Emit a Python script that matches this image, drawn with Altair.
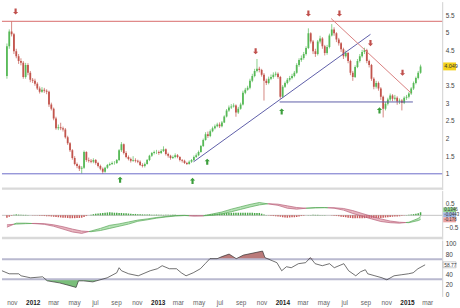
import altair as alt
import pandas as pd

# ---------------- data ----------------
START = pd.Timestamp("2011-10-03")          # first weekly candle
first_open = 3.78
closes = [4.62,5.04,4.96,4.48,4.34,4.20,4.15,3.75,4.09,3.87,
          3.67,3.64,3.56,3.42,3.33,3.39,3.36,3.33,2.97,2.85,
          2.57,2.29,2.32,2.29,2.26,2.04,1.87,1.67,1.45,1.28,
          1.22,1.14,1.17,1.62,1.39,1.37,1.34,1.39,1.31,1.22,
          1.14,1.06,1.17,1.25,1.28,1.31,1.31,1.39,1.67,1.84,
          1.59,1.48,1.42,1.37,1.39,1.37,1.34,1.25,1.22,1.28,
          1.39,1.51,1.59,1.62,1.62,1.59,1.65,1.70,1.56,1.51,
          1.45,1.48,1.53,1.48,1.39,1.37,1.31,1.28,1.34,1.39,
          1.48,1.53,1.62,1.79,1.96,2.12,2.07,2.21,2.29,2.35,
          2.40,2.35,2.46,2.63,2.80,2.88,2.91,2.94,2.74,2.85,
          2.97,3.30,3.39,3.44,3.64,3.78,3.92,3.98,3.95,3.81,
          3.64,3.58,3.70,3.75,3.81,3.84,3.75,3.19,3.47,3.58,
          3.67,3.72,3.78,3.87,4.09,4.23,4.29,4.40,4.57,4.99,
          4.76,4.48,4.40,4.76,4.84,4.62,4.43,4.60,4.93,5.10,
          4.99,4.81,4.71,4.54,4.34,4.43,4.20,3.87,3.75,4.03,
          4.20,4.34,4.46,4.51,4.20,4.09,3.70,3.47,3.58,3.42,
          3.19,2.85,2.99,3.11,3.22,3.13,3.16,3.05,3.08,3.02,
          3.16,3.19,3.28,3.42,3.58,3.72,3.87,4.049]
highs = [4.70,5.10,5.33,5.00,4.55,4.40,4.28,4.20,4.15,4.14,
         3.92,3.72,3.70,3.60,3.48,3.46,3.44,3.40,3.36,3.02,
         2.88,2.62,2.40,2.45,2.34,2.30,2.08,1.90,1.70,1.50,
         1.32,1.26,1.22,1.66,1.64,1.46,1.42,1.44,1.42,1.34,
         1.26,1.18,1.20,1.28,1.32,1.35,1.36,1.42,1.70,1.90,
         1.86,1.64,1.52,1.46,1.50,1.44,1.40,1.38,1.30,1.32,
         1.42,1.54,1.62,1.66,1.68,1.66,1.70,1.78,1.72,1.60,
         1.54,1.52,1.58,1.56,1.50,1.42,1.40,1.34,1.38,1.42,
         1.52,1.58,1.66,1.82,2.00,2.18,2.20,2.26,2.34,2.40,
         2.45,2.46,2.50,2.66,2.84,2.94,2.98,3.00,2.97,2.90,
         3.02,3.36,3.44,3.50,3.70,3.84,3.98,4.26,4.04,3.98,
         3.86,3.70,3.76,3.82,3.88,3.90,3.88,3.78,3.52,3.62,
         3.72,3.78,3.84,3.92,4.14,4.28,4.36,4.46,4.62,5.13,
         5.02,4.80,4.55,4.80,4.92,4.88,4.66,4.66,4.98,5.25,
         5.16,5.02,4.86,4.74,4.58,4.50,4.46,4.24,3.92,4.08,
         4.26,4.40,4.52,4.58,4.55,4.24,4.12,3.74,3.64,3.62,
         3.46,3.22,3.04,3.16,3.28,3.26,3.24,3.20,3.14,3.12,
         3.20,3.24,3.32,3.46,3.62,3.76,3.92,4.10]
lows = [3.70,4.55,4.90,4.40,4.28,4.12,4.08,3.70,3.70,3.80,
        3.60,3.58,3.50,3.38,3.28,3.30,3.30,3.26,2.90,2.80,
        2.52,2.25,2.24,2.24,2.20,2.00,1.82,1.62,1.40,1.24,
        1.16,1.08,1.00,1.14,1.34,1.32,1.30,1.30,1.26,1.18,
        1.10,1.00,1.03,1.14,1.22,1.25,1.26,1.28,1.36,1.62,
        1.55,1.44,1.38,1.32,1.34,1.32,1.30,1.22,1.18,1.18,
        1.26,1.36,1.48,1.55,1.56,1.54,1.56,1.62,1.52,1.46,
        1.40,1.42,1.44,1.44,1.35,1.32,1.28,1.25,1.26,1.31,
        1.36,1.45,1.50,1.60,1.76,1.94,2.02,2.04,2.18,2.26,
        2.32,2.30,2.32,2.44,2.60,2.76,2.84,2.88,2.62,2.70,
        2.82,2.94,3.26,3.36,3.40,3.60,3.74,3.88,3.88,3.76,
        3.08,3.52,3.54,3.66,3.70,3.76,3.70,3.13,3.16,3.44,
        3.54,3.62,3.68,3.74,3.84,4.04,4.18,4.24,4.36,4.54,
        4.70,4.40,4.32,4.36,4.70,4.55,4.36,4.38,4.56,4.90,
        4.92,4.74,4.64,4.46,4.26,4.30,4.14,3.80,3.64,3.72,
        4.00,4.16,4.30,4.40,4.14,4.02,3.64,3.40,3.42,3.36,
        3.10,2.60,2.80,2.94,3.06,3.06,3.08,2.96,2.98,2.80,
        2.98,3.10,3.14,3.24,3.38,3.54,3.68,3.84]

macd_weeks = [0,4,8,12,16,20,24,28,32,36,40,44,48,52,56,60,64,68,72,76,80,84,88,92,
              96,100,104,108,112,116,120,124,128,132,136,140,144,148,152,156,160,164,
              168,172,176,177]
macd_line = [-0.50,-0.33,-0.33,-0.35,-0.38,-0.46,-0.58,-0.70,-0.76,-0.66,
             -0.55,-0.42,-0.36,-0.28,-0.20,-0.15,-0.09,-0.05,-0.01,0.00,
             -0.03,-0.02,0.06,0.14,0.26,0.36,0.46,0.54,0.48,0.42,
             0.30,0.26,0.30,0.33,0.33,0.30,0.22,0.08,-0.04,-0.15,
             -0.26,-0.31,-0.33,-0.29,-0.13,-0.044]
signal_line = [-0.40,-0.37,-0.35,-0.34,-0.35,-0.40,-0.48,-0.58,-0.66,-0.69,
               -0.64,-0.55,-0.46,-0.37,-0.25,-0.19,-0.12,-0.07,-0.03,-0.01,
               -0.02,-0.02,0.00,0.06,0.15,0.25,0.35,0.44,0.49,0.47,
               0.40,0.33,0.30,0.31,0.32,0.32,0.29,0.20,0.08,-0.04,
               -0.15,-0.24,-0.29,-0.31,-0.22,-0.178]
histogram = [-0.10,-0.06,-0.02,0.02, 0.04,0.03,0.03,0.02, 0.02,0.01,0.00,-0.01, -0.01,-0.01,-0.02,-0.02,
             -0.03,-0.04,-0.04,-0.05, -0.06,-0.07,-0.08,-0.09, -0.10,-0.10,-0.11,-0.12, -0.12,-0.12,-0.11,-0.11,
             -0.10,-0.07,-0.03,0.00, 0.03,0.05,0.07,0.08, 0.09,0.10,0.11,0.12, 0.13,0.12,0.11,0.11,
             0.10,0.10,0.09,0.09, 0.08,0.07,0.06,0.06, 0.05,0.05,0.04,0.04, 0.04,0.04,0.03,0.03,
             0.03,0.03,0.02,0.02, 0.02,0.02,0.02,0.02, 0.02,0.01,0.01,0.01, 0.01,0.01,0.00,0.00,
             -0.01,-0.01,0.00,0.00, 0.00,0.02,0.03,0.05, 0.06,0.07,0.07,0.08, 0.08,0.09,0.10,0.10,
             0.11,0.11,0.11,0.11, 0.11,0.11,0.11,0.11, 0.11,0.11,0.10,0.10, 0.10,0.07,0.04,0.01,
             -0.01,-0.02,-0.03,-0.04, -0.05,-0.06,-0.08,-0.09, -0.10,-0.09,-0.08,-0.08, -0.07,-0.05,-0.03,-0.02,
             0.00,0.01,0.01,0.02, 0.02,0.02,0.01,0.01, 0.01,0.00,0.00,-0.01, -0.02,-0.03,-0.04,-0.06,
             -0.07,-0.08,-0.10,-0.11, -0.12,-0.12,-0.12,-0.12, -0.12,-0.12,-0.11,-0.11, -0.11,-0.11,-0.11,-0.11,
             -0.11,-0.10,-0.09,-0.08, -0.07,-0.06,-0.05,-0.05, -0.04,-0.02,-0.01,0.01, 0.02,0.04,0.05,0.07,
             0.09,0.13]

rsi_weeks = [0,3,7,8,12,17,19,24,28,31,32,34,38,41,44,48,49,50,53,57,
             59,62,65,67,70,73,75,77,80,83,85,87,90,92,95,98,101,105,109,110,
             113,115,117,119,121,124,127,129,131,134,137,139,143,145,148,150,152,153,156,159,
             161,164,167,170,172,174,177]
rsi_values = [47,41,41,37,33,35,27,23,18,14,27,27,25,29,33,43,53,47,41,37,
              41,47,51,57,51,51,43,37,43,51,61,71,71,75,80,71,78,82,86,73,
              67,63,47,55,53,61,63,73,61,57,61,53,61,47,37,45,49,41,37,33,
              29,37,39,41,43,51,58.77]

resistance_level = 5.33
floor_level = 1.00
support_level = 3.04
rising_dates, rising_prices = ["2013-04-14", "2014-09-26"], [1.34, 4.96]
support_dates = ["2013-12-28", "2015-01-31"]
falling_dates, falling_prices = ["2014-05-31", "2015-01-25"], [5.41, 3.30]
down_arrow_dates = ["2011-10-29", "2013-10-17", "2014-03-24", "2014-06-25", "2014-09-26", "2014-12-31"]
down_arrow_prices = [5.61, 4.48, 5.55, 5.55, 4.71, 3.87]
up_arrow_dates = ["2012-09-06", "2013-04-11", "2013-05-25", "2014-01-03", "2014-10-23"]
up_arrow_prices = [0.83, 0.80, 1.34, 2.77, 2.80]

price_ticks = [1, 1.5, 2, 2.5, 3, 3.5, 4.5, 5, 5.5]
macd_ticks = [-0.5, 0.5]
rsi_ticks = [0, 20, 40, 80, 100]
last_price = 4.049
macd_labels = [("0.1346", 0.23, "#8fd18f"), ("-0.0443", 0.02, "#9fb3e0"), ("-0.178", -0.19, "#eaa3a3")]
rsi_last = 58.77
month_ticks = [(2011, 11), (2012, 1), (2012, 3), (2012, 5), (2012, 7), (2012, 9), (2012, 11),
               (2013, 1), (2013, 3), (2013, 5), (2013, 7), (2013, 9), (2013, 11),
               (2014, 1), (2014, 3), (2014, 5), (2014, 7), (2014, 9), (2014, 11),
               (2015, 1), (2015, 3)]

# ---------------- helpers ----------------
def iso(ts):
    return pd.Timestamp(ts).strftime("%Y-%m-%dT%H:%M:%SZ")

def week_date(w):
    return iso(START + pd.Timedelta(days=7 * w))

W = 445
H_PRICE, H_MACD, H_RSI = 190, 49, 57
FONT = "Liberation Sans"
GREEN, RED = "#57b957", "#c2544c"

x_scale = alt.Scale(type="utc", domain=[alt.DateTime(year=2011, month=10, date=3, utc=True),
                                         alt.DateTime(year=2015, month=4, date=14, utc=True)])
X = alt.X("date:T", scale=x_scale, axis=None)

def yaxis(values, fmt=".4~r"):
    return alt.Axis(orient="right", values=values, format=fmt, title=None, grid=False, ticks=False,
                    domainColor="#cfcfcf", domainWidth=1, labelPadding=3, labelFontSize=6.5,
                    labelColor="#444", labelFont=FONT)

# ---------------- price panel ----------------
opens = [first_open] + closes[:-1]
cdf = pd.DataFrame({"date": [week_date(i) for i in range(len(closes))],
                    "open": opens, "close": closes, "high": highs, "low": lows})
cdf["high"] = cdf[["high", "open", "close"]].max(axis=1)
cdf["low"] = cdf[["low", "open", "close"]].min(axis=1)
cdf["up"] = cdf["close"] >= cdf["open"]

p_scale = alt.Scale(domain=[0.551, 5.888], nice=False, zero=False)
p_axis = yaxis(price_ticks)
def YP(f):
    return alt.Y(f, scale=p_scale, axis=p_axis)

cb = alt.Chart(cdf)
layers = []
for flag, col in ((True, GREEN), (False, RED)):
    filt = "datum.up" if flag else "!datum.up"
    layers.append(cb.transform_filter(filt).mark_rule(color=col, strokeWidth=0.7, clip=True)
                  .encode(x=X, y=YP("low:Q"), y2="high:Q"))
    layers.append(cb.transform_filter(filt).mark_bar(color=col, size=1.8, clip=True)
                  .encode(x=X, y=YP("open:Q"), y2="close:Q"))

hl = pd.DataFrame({"v": [resistance_level]})
layers.append(alt.Chart(hl).mark_rule(color="#d86b6b", strokeWidth=1).encode(y=YP("v:Q")))
fl = pd.DataFrame({"v": [floor_level]})
layers.append(alt.Chart(fl).mark_rule(color="#6b6bc8", strokeWidth=1).encode(y=YP("v:Q")))

blue_lines = pd.DataFrame({"date": [iso(d) for d in rising_dates] + [iso(d) for d in support_dates],
                           "p": rising_prices + [support_level, support_level],
                           "seg": ["rise", "rise", "sup", "sup"]})
layers.append(alt.Chart(blue_lines).mark_line(color="#5d5da8", strokeWidth=1)
              .encode(x=X, y=YP("p:Q"), detail="seg:N"))
red_line = pd.DataFrame({"date": [iso(d) for d in falling_dates], "p": falling_prices})
layers.append(alt.Chart(red_line).mark_line(color="#d98080", strokeWidth=1)
              .encode(x=X, y=YP("p:Q")))

DOWN = "M-0.35,-1L0.35,-1L0.35,0.15L0.85,0.15L0,1L-0.85,0.15L-0.35,0.15Z"
UP = "M-0.35,1L0.35,1L0.35,-0.15L0.85,-0.15L0,-1L-0.85,-0.15L-0.35,-0.15Z"
dA = pd.DataFrame({"date": [iso(d) for d in down_arrow_dates], "p": down_arrow_prices})
uA = pd.DataFrame({"date": [iso(d) for d in up_arrow_dates], "p": up_arrow_prices})
layers.append(alt.Chart(dA).mark_point(shape=DOWN, filled=True, size=38, color="#c0504d", opacity=1)
              .encode(x=X, y=YP("p:Q")))
layers.append(alt.Chart(uA).mark_point(shape=UP, filled=True, size=38, color="#3c9e3c", opacity=1)
              .encode(x=X, y=YP("p:Q")))

lp = pd.DataFrame({"v": [last_price], "t": [f"{last_price:.3f}"]})
layers.append(alt.Chart(lp).mark_rect(color="#f3d21c", yOffset=-4, y2Offset=4)
              .encode(x=alt.value(446), x2=alt.value(459), y=YP("v:Q"), y2="v:Q"))
layers.append(alt.Chart(lp).mark_text(align="left", baseline="middle", fontSize=5.5, font=FONT, color="#333")
              .encode(x=alt.value(447), y=YP("v:Q"), text="t:N"))
layers.append(alt.Chart(hl).mark_rule(color="#d9d9d9", strokeWidth=2.5)
              .encode(x=alt.value(0), x2=alt.value(W), y=alt.value(H_PRICE - 1)))

price = alt.layer(*layers).properties(width=W, height=H_PRICE)

# ---------------- MACD panel ----------------
m_scale = alt.Scale(domain=[-1.0, 1.042], nice=False, zero=False)
m_axis = yaxis(macd_ticks)
def YM(f, **kw):
    return alt.Y(f, scale=m_scale, axis=m_axis, **kw)

hdf = pd.DataFrame({"date": [week_date(i) for i in range(len(histogram))], "h": histogram})
hdf["pos"] = hdf["h"] >= 0

rows = []
seg = 0
for k in range(len(macd_weeks) - 1):
    w0, w1 = macd_weeks[k], macd_weeks[k + 1]
    m0, m1, s0, s1 = macd_line[k], macd_line[k + 1], signal_line[k], signal_line[k + 1]
    d0, d1 = m0 - s0, m1 - s1
    if d0 * d1 < 0:
        t = d0 / (d0 - d1)
        wc, vc = w0 + t * (w1 - w0), m0 + t * (m1 - m0)
        pieces = [((w0, m0, s0), (wc, vc, vc), d0), ((wc, vc, vc), (w1, m1, s1), d1)]
    else:
        pieces = [((w0, m0, s0), (w1, m1, s1), d0 + d1)]
    for a, b, d in pieces:
        seg += 1
        for p in (a, b):
            rows.append({"date": week_date(p[0]), "m": p[1], "s": p[2], "seg": seg, "pos": d >= 0})
band = pd.DataFrame(rows)

ml = []
ml.append(alt.Chart(hl).mark_rule(color="#9a9a9a", strokeWidth=0.6).encode(y=YM("z:Q")).transform_calculate(z="0"))
for flag, col, bcol, lcol in ((True, "#4aa84a", "#78c878", "#55a855"), (False, "#c85858", "#d4788a", "#b8607a")):
    filt = "datum.pos" if flag else "!datum.pos"
    ml.append(alt.Chart(hdf).transform_filter(filt).mark_bar(color=col, size=1.5)
              .encode(x=X, y=YM("h:Q"), y2=alt.datum(0)))
    ml.append(alt.Chart(band).transform_filter(filt).mark_area(color=bcol, opacity=0.55)
              .encode(x=X, y=YM("m:Q", stack=None), y2="s:Q", detail="seg:N"))
    ml.append(alt.Chart(band).transform_filter(filt).mark_line(color=lcol, strokeWidth=0.7)
              .encode(x=X, y=YM("m:Q"), detail="seg:N"))
    ml.append(alt.Chart(band).transform_filter(filt).mark_line(color=lcol, strokeWidth=0.7)
              .encode(x=X, y=YM("s:Q"), detail="seg:N"))
mlab = pd.DataFrame({"t": [a for a, b, c in macd_labels], "v": [b for a, b, c in macd_labels],
                     "c": [c for a, b, c in macd_labels]})
ml.append(alt.Chart(mlab).mark_rect(yOffset=-2.5, y2Offset=2.5)
          .encode(x=alt.value(446), x2=alt.value(459), y=YM("v:Q"), y2="v:Q",
                  color=alt.Color("c:N", scale=None)))
ml.append(alt.Chart(mlab).mark_text(align="left", baseline="middle", fontSize=4.5, font=FONT, color="#333")
          .encode(x=alt.value(447), y=YM("v:Q"), text="t:N"))
ml.append(alt.Chart(hl).mark_rule(color="#d9d9d9", strokeWidth=2.5)
          .encode(x=alt.value(0), x2=alt.value(W), y=alt.value(H_MACD - 1)))
macd = alt.layer(*ml).properties(width=W, height=H_MACD)

# ---------------- RSI panel ----------------
r_scale = alt.Scale(domain=[-3.9, 107.8], nice=False, zero=False)
r_axis = yaxis(rsi_ticks)
def YR(f, **kw):
    return alt.Y(f, scale=r_scale, axis=r_axis, **kw)

rdf = pd.DataFrame({"date": [week_date(w) for w in rsi_weeks], "r": rsi_values})
x_axis = alt.Axis(values=[alt.DateTime(year=y, month=m, date=1, utc=True) for y, m in month_ticks],
                  labelExpr="utcmonth(datum.value) == 0 ? utcFormat(datum.value, '%Y') : lower(utcFormat(datum.value, '%b'))",
                  domain=False, ticks=False, grid=False, title=None, labelPadding=3, labelFontSize=6.5,
                  labelFont=FONT,
                  labelColor={"condition": {"test": "utcmonth(datum.value) == 0", "value": "#222"}, "value": "#666"},
                  labelFontWeight={"condition": {"test": "utcmonth(datum.value) == 0", "value": "bold"}, "value": "normal"})
XR = alt.X("date:T", scale=x_scale, axis=x_axis)

rl = []
lv = pd.DataFrame({"v": [70, 30]})
rl.append(alt.Chart(rdf).transform_calculate(top="max(datum.r, 70)")
          .mark_area(color="#a34d4d", opacity=0.75).encode(x=XR, y=YR("top:Q", stack=None), y2=alt.datum(70)))
rl.append(alt.Chart(rdf).transform_calculate(bot="min(datum.r, 30)")
          .mark_area(color="#4ea84e", opacity=0.75).encode(x=XR, y=YR("bot:Q", stack=None), y2=alt.datum(30)))
rl.append(alt.Chart(lv).mark_rule(color="#b9b9cf", strokeWidth=2).encode(y=YR("v:Q")))
rl.append(alt.Chart(rdf).mark_line(color="#333333", strokeWidth=0.7).encode(x=XR, y=YR("r:Q")))
rlab = pd.DataFrame({"v": [rsi_last], "t": [f"{rsi_last:.2f}"]})
rl.append(alt.Chart(rlab).mark_rect(color="white", stroke="#999", strokeWidth=0.5, yOffset=-3, y2Offset=3)
          .encode(x=alt.value(446), x2=alt.value(459), y=YR("v:Q"), y2="v:Q"))
rl.append(alt.Chart(rlab).mark_text(align="left", baseline="middle", fontSize=5, font=FONT, color="#333")
          .encode(x=alt.value(447), y=YR("v:Q"), text="t:N"))
rsi = alt.layer(*rl).properties(width=W, height=H_RSI)

chart = (alt.vconcat(price, macd, rsi, spacing=0)
         .properties(padding=0, background="white")
         .configure_view(stroke=None)
         .configure_axis(labelFont=FONT))

chart.save("out.html", embed_options={"renderer": "svg", "actions": False})
